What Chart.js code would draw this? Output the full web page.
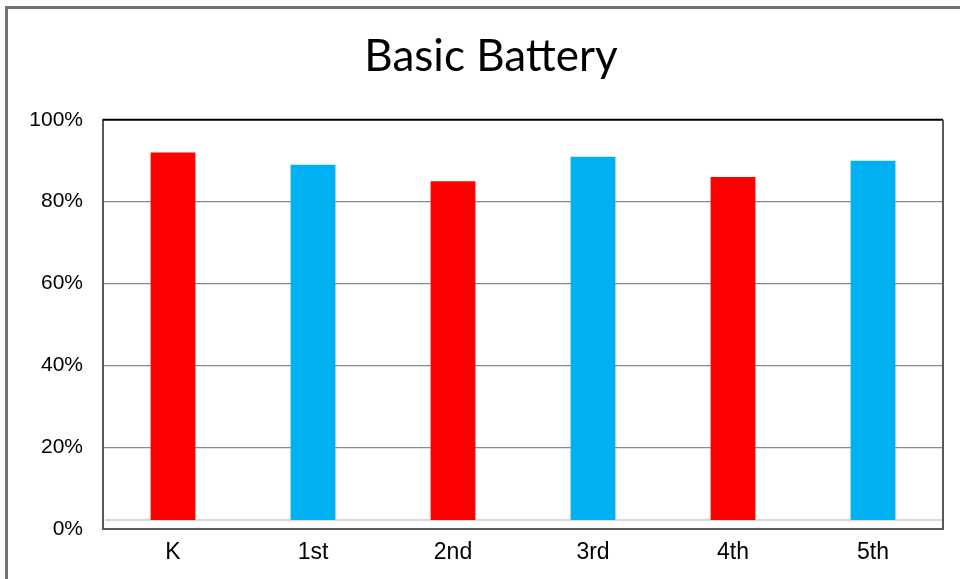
<!DOCTYPE html>
<html>
<head>
<meta charset="utf-8">
<title>Basic Battery</title>
<script src="https://cdn.jsdelivr.net/npm/chart.js@4/dist/chart.umd.min.js"></script>
<style>
    html, body { margin: 0; padding: 0; background: #fff; overflow: hidden; }
    #wrap { position: relative; width: 960px; height: 579px; }
    /* outer frame of the chart object, runs past the right/bottom edge */
    #frame {
        position: absolute; left: 5px; top: 6px;
        width: 1000px; height: 620px;
        border: 3px solid #737373;
    }
    #chart { position: absolute; left: 0; top: 0; }
</style>
</head>
<body>
<div id="wrap">
    <div id="frame"></div>
    <canvas id="chart" width="960" height="579"></canvas>
</div>
<script>
// chart data
const categories = ['K', '1st', '2nd', '3rd', '4th', '5th'];
const scores = [92, 89, 85, 91, 86, 90];
const barColors = ['#FF0000', '#00B0F0', '#FF0000', '#00B0F0', '#FF0000', '#00B0F0'];
const yTicks = [0, 20, 40, 60, 80, 100];
const barBase = 2.2; // bars sit on a floor slightly above 0%

// top/right frame of the plot + the light floor line
const plotFrame = {
    id: 'plotFrame',
    beforeDatasetsDraw(chart) {
        const { ctx, chartArea: a, scales } = chart;
        const y = scales.y.getPixelForValue(barBase);
        ctx.save();
        ctx.strokeStyle = '#d9d9d9';
        ctx.lineWidth = 2;
        ctx.beginPath();
        ctx.moveTo(a.left + 2, y);
        ctx.lineTo(a.right, y);
        ctx.stroke();
        ctx.restore();
    },
    afterDraw(chart) {
        const { ctx, chartArea: a } = chart;
        ctx.save();
        ctx.lineWidth = 2;
        ctx.strokeStyle = '#000';
        ctx.beginPath();
        ctx.moveTo(a.left, a.top);
        ctx.lineTo(a.right, a.top);
        ctx.stroke();
        ctx.strokeStyle = '#595959';
        ctx.beginPath();
        ctx.moveTo(a.right, a.top);
        ctx.lineTo(a.right, a.bottom);
        ctx.stroke();
        ctx.restore();
    }
};

new Chart(document.getElementById('chart'), {
    type: 'bar',
    data: {
        labels: categories,
        datasets: [{
            data: scores.map(v => [barBase, v]),
            backgroundColor: barColors,
            borderWidth: 0,
            categoryPercentage: 1,
            barPercentage: 0.32
        }]
    },
    options: {
        responsive: false,
        animation: false,
        // asymmetric so the title centres where the original does
        layout: { padding: { left: 22, right: 0, top: 0, bottom: 0 } },
        plugins: {
            legend: { display: false },
            tooltip: { enabled: false },
            title: {
                display: true,
                text: 'Basic Battery',
                color: '#000',
                font: { family: 'Lato', size: 44, weight: 'normal' },
                padding: { top: 30, bottom: 37 }
            }
        },
        scales: {
            x: {
                grid: { display: false, drawTicks: false },
                border: { color: '#595959', width: 2 },
                ticks: {
                    color: '#000',
                    font: { family: 'Liberation Sans', size: 23 },
                    padding: 10
                },
                afterFit(s) { s.height = 50; }
            },
            y: {
                min: 0,
                max: 100,
                afterBuildTicks(s) { s.ticks = yTicks.map(v => ({ value: v })); },
                grid: {
                    drawTicks: false,
                    color: c => (c.tick.value === 0 || c.tick.value === 100) ? 'rgba(0,0,0,0)' : '#888',
                    lineWidth: 1.3
                },
                border: { color: '#595959', width: 2 },
                ticks: {
                    color: '#000',
                    font: { family: 'Liberation Sans', size: 21 },
                    padding: 20,
                    callback: v => v + '%'
                },
                afterFit(s) { s.width = 81; }
            },
            // empty right axis, only reserves the right margin
            yRight: {
                display: true,
                position: 'right',
                min: 0,
                max: 100,
                grid: { display: false, drawTicks: false },
                border: { display: false },
                ticks: { display: false },
                afterFit(s) { s.width = 17; }
            }
        }
    },
    plugins: [plotFrame]
});
</script>
</body>
</html>
